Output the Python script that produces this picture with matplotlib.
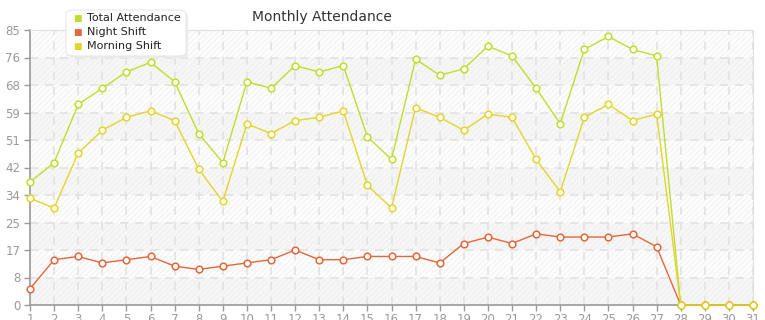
import numpy as np
import matplotlib
matplotlib.use("Agg")
import matplotlib.pyplot as plt
from matplotlib.patches import FancyBboxPatch

days = list(range(1, 32))
total = [38, 44, 62, 67, 72, 75, 69, 53, 44, 69, 67, 74, 72, 74, 52, 45,
         76, 71, 73, 80, 77, 67, 56, 79, 83, 79, 77, 0, 0, 0, 0]
night = [5, 14, 15, 13, 14, 15, 12, 11, 12, 13, 14, 17, 14, 14, 15, 15,
         15, 13, 19, 21, 19, 22, 21, 21, 21, 22, 18, 0, 0, 0, 0]
morning = [33, 30, 47, 54, 58, 60, 57, 42, 32, 56, 53, 57, 58, 60, 37, 30,
           61, 58, 54, 59, 58, 45, 35, 58, 62, 57, 59, 0, 0, 0, 0]

series = [("Total Attendance", total, "#c2dc2e"),
          ("Night Shift", night, "#e2673a"),
          ("Morning Shift", morning, "#e2d52c")]

y_max = 85
y_ticks = np.arange(0, y_max + 0.1, y_max / 10)

plt.rcParams["hatch.linewidth"] = 0.5
fig = plt.figure(figsize=(7.65, 3.2), dpi=100)
ax = fig.add_axes([30 / 765, 15 / 320, 723 / 765, 275 / 320])

# alternating bands with faint diagonal hatch
for i in range(10):
    fc = "#f6f6f6" if i % 2 == 0 else "#fdfdfd"
    ax.axhspan(y_ticks[i], y_ticks[i + 1], facecolor=fc, edgecolor="#ededed",
               hatch="//////", linewidth=0, zorder=0)

for y in y_ticks[1:]:
    ax.axhline(y, color="#e2e2e2", lw=1.2, ls=(0, (5, 4)), zorder=1)
for x in days[1:]:
    ax.axvline(x, color="#e2e2e2", lw=1.2, ls=(0, (5, 4)), zorder=1)

for name, vals, col in series:
    ax.plot(days, vals, color=col, lw=1, marker="o", ms=4.8,
            mfc="white", mec=col, mew=1.1, label=name, zorder=3, clip_on=False)

ax.set_xlim(1, 31)
ax.set_ylim(0, y_max)
ax.set_xticks(days)
ax.set_yticks(y_ticks)
ax.set_yticklabels([str(int(v)) for v in y_ticks])
ax.tick_params(colors="#999999", labelsize=8.5, length=4, width=1)
ax.tick_params(axis="y", pad=3)
ax.tick_params(axis="x", pad=2)

for side in ["top", "right"]:
    ax.spines[side].set_color("#e0e0e0")
for side in ["left", "bottom"]:
    ax.spines[side].set_color("#999999")
    ax.spines[side].set_linewidth(1.2)

fig.text(322 / 765, 1 - 17 / 320, "Monthly Attendance", ha="center",
         va="center", fontsize=10, color="#333333")

# legend box with a soft shadow
shadow = FancyBboxPatch((68 / 765, 1 - 58 / 320), 120 / 765, 46 / 320,
                        boxstyle="round,pad=0,rounding_size=0.012",
                        transform=fig.transFigure, facecolor="#ececec",
                        edgecolor="none", zorder=4)
box = FancyBboxPatch((66 / 765, 1 - 56 / 320), 120 / 765, 46 / 320,
                     boxstyle="round,pad=0,rounding_size=0.012",
                     transform=fig.transFigure, facecolor="white",
                     edgecolor="#e8e8e8", lw=0.8, zorder=5)
fig.patches.append(shadow)
fig.patches.append(box)
for i, (name, vals, col) in enumerate(series):
    yy = 1 - (18 + i * 14) / 320
    fig.text(77 / 765, yy, "\u25a0", color=col, fontsize=6.5,
             ha="center", va="center", zorder=6)
    fig.text(87 / 765, yy, name, color="#222222", fontsize=8,
             ha="left", va="center", zorder=6)

fig.savefig("out.png", dpi=100)
